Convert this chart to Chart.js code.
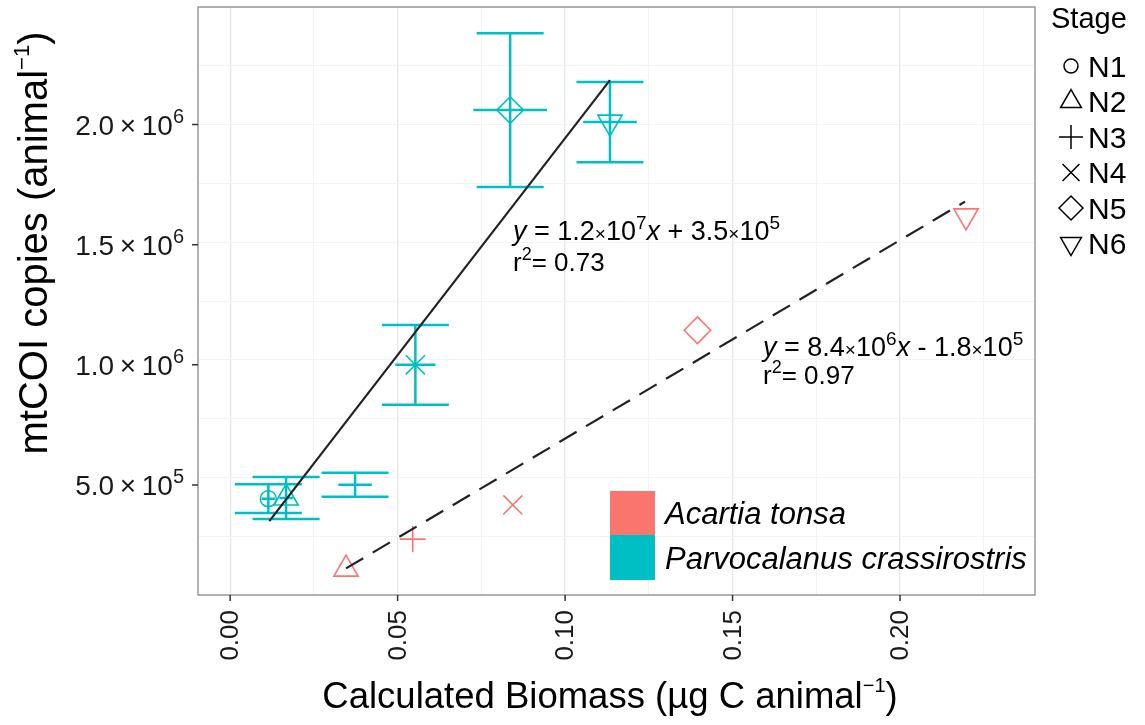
<!DOCTYPE html>
<html>
<head>
<meta charset="utf-8">
<script src="https://cdn.jsdelivr.net/npm/chart.js@4.4.1/dist/chart.umd.min.js"></script>
<style>
  html, body { margin: 0; padding: 0; background: #fff; }
  canvas { display: block; }
</style>
</head>
<body>
<canvas id="chart" width="1145" height="725"></canvas>
<script>
// stages, in legend order
var stages = ['N1', 'N2', 'N3', 'N4', 'N5', 'N6'];

// Acartia tonsa (no N1 value)
var acartiaBiomass = [null, 0.0346, 0.0545, 0.0844, 0.1395, 0.2197];
var acartiaCopies = [null, 1.50e5, 2.75e5, 4.17e5, 1.144e6, 1.62e6];

// Parvocalanus crassirostris, with sd
var parvoBiomass = [0.0114, 0.0167, 0.0373, 0.0553, 0.0836, 0.1134];
var parvoBiomassSd = [0.002, 0.002, 0.005, 0.006, 0.011, 0.008];
var parvoCopies = [4.43e5, 4.46e5, 5.01e5, 1.0e6, 2.06e6, 2.01e6];
var parvoCopiesSd = [6.0e4, 8.7e4, 5.0e4, 1.66e5, 3.2e5, 1.67e5];

// fitted lines (end points as drawn)
var parvoFitX = [0.0117, 0.1134];
var parvoFitY = [3.50e5, 2.185e6];
var acartiaFitX = [0.0346, 0.2194];
var acartiaFitY = [1.53e5, 1.679e6];

// axis ticks
var xTicks = [0, 0.05, 0.10, 0.15, 0.20];
var xTickLabels = ['0.00', '0.05', '0.10', '0.15', '0.20'];
var yTicks = [5e5, 1e6, 1.5e6, 2e6];
var yTickMant = ['5.0', '1.0', '1.5', '2.0'];
var yTickExp = ['5', '6', '6', '6'];

var RED = '#F8766D';
var CYAN = '#00BFC4';
var FONT = '"Liberation Sans", Arial, Helvetica, sans-serif';

var shapes = ['circle', 'triangle', 'cross', 'crossRot', 'rectRot', 'triangle'];
var rotations = [0, 0, 0, 0, 0, 180];
var radii = [8, 14, 13, 13.5, 13.3, 14];

function points(xs, ys) {
  var out = [];
  xs.forEach(function (x, i) {
    if (x !== null) out.push({ x: x, y: ys[i], s: i });
  });
  return out;
}

function isMajor(v, step) {
  var r = v / step;
  return Math.abs(r - Math.round(r)) < 1e-6;
}

// rich text: parts = [{t, size, italic, rise}]
function richWidth(ctx, parts) {
  var w = 0;
  parts.forEach(function (p) {
    ctx.font = (p.italic ? 'italic ' : '') + p.size + 'px ' + FONT;
    w += ctx.measureText(p.t).width;
  });
  return w;
}
function drawRich(ctx, parts, x, y) {
  parts.forEach(function (p) {
    ctx.font = (p.italic ? 'italic ' : '') + p.size + 'px ' + FONT;
    ctx.fillText(p.t, x, y - (p.rise || 0));
    x += ctx.measureText(p.t).width;
  });
}

function eqParts(a, ea, sign, b, eb) {
  var n = 27, s = 19, r = 11;
  return [
    { t: 'y', size: n, italic: true },
    { t: ' = ' + a, size: n },
    { t: '\u00d7', size: 19 },
    { t: '10', size: n },
    { t: ea, size: s, rise: r },
    { t: 'x', size: n, italic: true },
    { t: ' ' + sign + ' ' + b, size: n },
    { t: '\u00d7', size: 19 },
    { t: '10', size: n },
    { t: eb, size: s, rise: r }
  ];
}
function r2Parts(v) {
  return [
    { t: 'r', size: 26 },
    { t: '2', size: 18, rise: 11 },
    { t: '= ' + v, size: 26 }
  ];
}

function legendSymbol(ctx, shape, x, y, r, rot) {
  ctx.beginPath();
  if (shape === 'circle') {
    ctx.arc(x, y, r, 0, Math.PI * 2);
  } else if (shape === 'triangle') {
    var a = rot * Math.PI / 180;
    for (var k = 0; k < 3; k++) {
      var px = x + Math.sin(a) * r, py = y - Math.cos(a) * r;
      if (k === 0) ctx.moveTo(px, py); else ctx.lineTo(px, py);
      a += 2 * Math.PI / 3;
    }
    ctx.closePath();
  } else if (shape === 'cross') {
    ctx.moveTo(x - r, y); ctx.lineTo(x + r, y);
    ctx.moveTo(x, y - r); ctx.lineTo(x, y + r);
  } else if (shape === 'crossRot') {
    var d = r * 0.7071;
    ctx.moveTo(x - d, y - d); ctx.lineTo(x + d, y + d);
    ctx.moveTo(x + d, y - d); ctx.lineTo(x - d, y + d);
  } else if (shape === 'rectRot') {
    ctx.moveTo(x - r, y); ctx.lineTo(x, y - r);
    ctx.lineTo(x + r, y); ctx.lineTo(x, y + r);
    ctx.closePath();
  }
  ctx.stroke();
}

var decor = {
  id: 'decor',
  beforeDatasetsDraw: function (chart) {
    var ctx = chart.ctx, xs = chart.scales.x, ys = chart.scales.y;
    ctx.save();
    ctx.strokeStyle = CYAN;
    ctx.lineWidth = 2.5;
    ctx.beginPath();
    parvoBiomass.forEach(function (bx, i) {
      var cx = xs.getPixelForValue(bx);
      var x0 = xs.getPixelForValue(bx - 0.01), x1 = xs.getPixelForValue(bx + 0.01);
      var yLo = ys.getPixelForValue(parvoCopies[i] - parvoCopiesSd[i]);
      var yHi = ys.getPixelForValue(parvoCopies[i] + parvoCopiesSd[i]);
      var cy = ys.getPixelForValue(parvoCopies[i]);
      ctx.moveTo(cx, yLo); ctx.lineTo(cx, yHi);
      ctx.moveTo(x0, yLo); ctx.lineTo(x1, yLo);
      ctx.moveTo(x0, yHi); ctx.lineTo(x1, yHi);
      ctx.moveTo(xs.getPixelForValue(bx - parvoBiomassSd[i]), cy);
      ctx.lineTo(xs.getPixelForValue(bx + parvoBiomassSd[i]), cy);
    });
    ctx.stroke();
    ctx.restore();
  },
  afterDraw: function (chart) {
    var ctx = chart.ctx, a = chart.chartArea, xs = chart.scales.x, ys = chart.scales.y;
    ctx.save();
    // panel border
    ctx.strokeStyle = '#8a8a8a';
    ctx.lineWidth = 1.3;
    ctx.strokeRect(a.left, a.top, a.right - a.left, a.bottom - a.top);

    // tick marks
    ctx.strokeStyle = '#333';
    ctx.lineWidth = 1.5;
    ctx.beginPath();
    xTicks.forEach(function (v) {
      var px = xs.getPixelForValue(v);
      ctx.moveTo(px, a.bottom); ctx.lineTo(px, a.bottom + 6);
    });
    yTicks.forEach(function (v) {
      var py = ys.getPixelForValue(v);
      ctx.moveTo(a.left - 6, py); ctx.lineTo(a.left, py);
    });
    ctx.stroke();

    ctx.fillStyle = '#1a1a1a';
    ctx.textBaseline = 'alphabetic';
    ctx.textAlign = 'left';

    // y tick labels
    yTicks.forEach(function (v, i) {
      var parts = [
        { t: yTickMant[i], size: 28 },
        { t: '\u2009\u00d7\u2009', size: 28 },
        { t: '10', size: 28 },
        { t: yTickExp[i], size: 20, rise: 12 }
      ];
      var w = richWidth(ctx, parts);
      drawRich(ctx, parts, 184 - w, ys.getPixelForValue(v) + 10);
    });

    // x tick labels (rotated)
    ctx.font = '26px ' + FONT;
    xTicks.forEach(function (v, i) {
      ctx.save();
      ctx.translate(xs.getPixelForValue(v), 610);
      ctx.rotate(-Math.PI / 2);
      ctx.textAlign = 'right';
      ctx.textBaseline = 'middle';
      ctx.fillText(xTickLabels[i], 0, 1);
      ctx.restore();
    });

    // axis titles
    ctx.fillStyle = '#000';
    var xt = [
      { t: 'Calculated Biomass (\u00b5g C animal', size: 36.5 },
      { t: '\u22121', size: 20, rise: 16 },
      { t: ')', size: 36.5 }
    ];
    var xw = richWidth(ctx, xt);
    drawRich(ctx, xt, 610 - xw / 2, 708);

    var yt = [
      { t: 'mtCOI copies (animal', size: 40 },
      { t: '\u22121', size: 22, rise: 18 },
      { t: ')', size: 40 }
    ];
    var yw = richWidth(ctx, yt);
    ctx.save();
    ctx.translate(47, 243);
    ctx.rotate(-Math.PI / 2);
    drawRich(ctx, yt, -yw / 2, 0);
    ctx.restore();

    // equations
    drawRich(ctx, eqParts('1.2', '7', '+', '3.5', '5'), 513, 240);
    drawRich(ctx, r2Parts('0.73'), 513, 271);
    drawRich(ctx, eqParts('8.4', '6', '-', '1.8', '5'), 763, 356);
    drawRich(ctx, r2Parts('0.97'), 763, 384);

    // species legend (inside panel)
    ctx.fillStyle = RED;
    ctx.fillRect(610, 491, 45, 44);
    ctx.fillStyle = CYAN;
    ctx.fillRect(610, 535, 45, 45);
    ctx.fillStyle = '#000';
    ctx.font = 'italic 31px ' + FONT;
    ctx.fillText('Acartia tonsa', 665, 524);
    ctx.fillText('Parvocalanus crassirostris', 665, 569);

    // stage legend
    ctx.font = '29px ' + FONT;
    ctx.fillText('Stage', 1051, 28);
    ctx.strokeStyle = '#000';
    ctx.lineWidth = 1.5;
    stages.forEach(function (st, i) {
      var cy = 66 + i * 35.5;
      var r = shapes[i] === 'circle' ? 7 : 12;
      legendSymbol(ctx, shapes[i], 1071, cy, r, rotations[i]);
      ctx.font = '30px ' + FONT;
      ctx.fillText(st, 1088, cy + 10.7);
    });
    ctx.restore();
  }
};

var pointStyleOf = function (c) { var d = c.raw; return d ? shapes[d.s] : 'circle'; };
var rotationOf = function (c) { var d = c.raw; return d ? rotations[d.s] : 0; };
var radiusOf = function (c) { var d = c.raw; return d ? radii[d.s] : 8; };

new Chart(document.getElementById('chart').getContext('2d'), {
  type: 'scatter',
  data: {
    datasets: [
      {
        label: 'P. crassirostris fit',
        type: 'line',
        data: parvoFitX.map(function (x, i) { return { x: x, y: parvoFitY[i] }; }),
        borderColor: '#222',
        borderWidth: 2.2,
        pointRadius: 0,
        fill: false
      },
      {
        label: 'A. tonsa fit',
        type: 'line',
        data: acartiaFitX.map(function (x, i) { return { x: x, y: acartiaFitY[i] }; }),
        borderColor: '#222',
        borderWidth: 2.2,
        borderDash: [20, 11],
        pointRadius: 0,
        fill: false
      },
      {
        label: 'Acartia tonsa',
        data: points(acartiaBiomass, acartiaCopies),
        borderColor: RED,
        backgroundColor: 'rgba(0,0,0,0)',
        borderWidth: 1.6,
        pointStyle: pointStyleOf,
        rotation: rotationOf,
        radius: radiusOf
      },
      {
        label: 'Parvocalanus crassirostris',
        data: points(parvoBiomass, parvoCopies),
        borderColor: CYAN,
        backgroundColor: 'rgba(0,0,0,0)',
        borderWidth: 1.6,
        pointStyle: pointStyleOf,
        rotation: rotationOf,
        radius: radiusOf
      }
    ]
  },
  options: {
    responsive: false,
    animation: false,
    devicePixelRatio: 1,
    layout: { autoPadding: false, padding: { left: 198, right: 110, top: 7, bottom: 130 } },
    plugins: { legend: { display: false }, tooltip: { enabled: false } },
    scales: {
      x: {
        type: 'linear',
        min: -0.0096,
        max: 0.2403,
        ticks: { display: false, stepSize: 0.025, includeBounds: false },
        grid: {
          drawTicks: false,
          color: function (c) { return isMajor(c.tick.value, 0.05) ? '#e6e6e6' : '#f3f3f3'; },
          lineWidth: function (c) { return isMajor(c.tick.value, 0.05) ? 1.3 : 1; }
        },
        border: { display: false }
      },
      y: {
        type: 'linear',
        min: 42300,
        max: 2489000,
        ticks: { display: false, stepSize: 250000, includeBounds: false },
        grid: {
          drawTicks: false,
          color: function (c) { return isMajor(c.tick.value, 500000) ? '#e6e6e6' : '#f3f3f3'; },
          lineWidth: function (c) { return isMajor(c.tick.value, 500000) ? 1.3 : 1; }
        },
        border: { display: false }
      }
    }
  },
  plugins: [decor]
});
</script>
</body>
</html>
